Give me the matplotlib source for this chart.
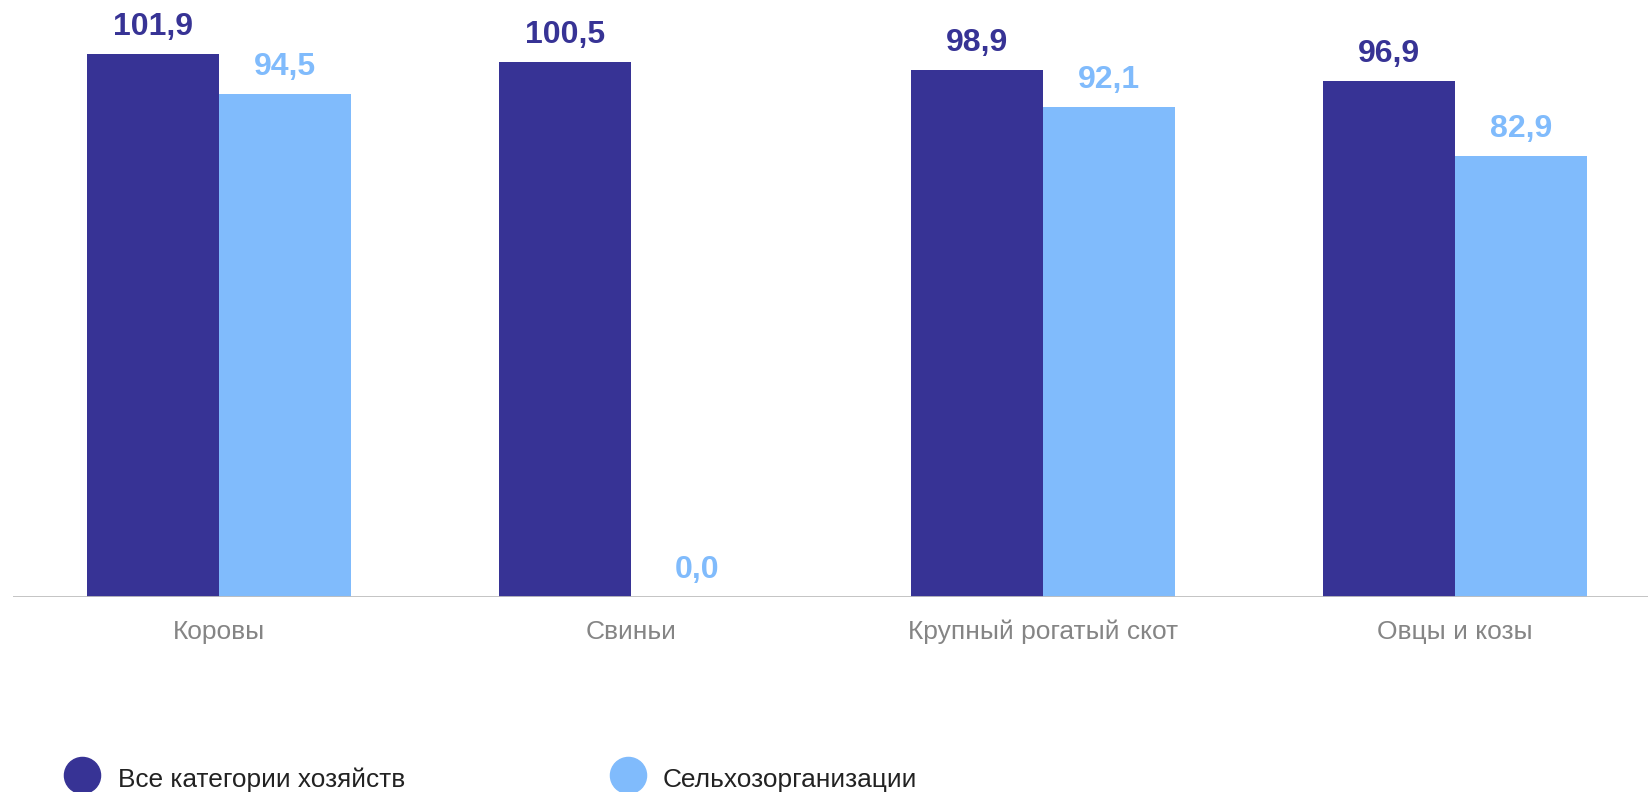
import matplotlib.pyplot as plt
from matplotlib.lines import Line2D

categories = ["Коровы", "Свиньи", "Крупный рогатый скот", "Овцы и козы"]
all_farms = [101.9, 100.5, 98.9, 96.9]
agri_orgs = [94.5, 0.0, 92.1, 82.9]
series_names = ["Все категории хозяйств", "Сельхозорганизации"]

dark = "#373395"
light = "#80bbfc"

plt.rcParams["font.family"] = ["Liberation Sans", "DejaVu Sans"]

W, H = 1648, 792
fig = plt.figure(figsize=(W / 100, H / 100), dpi=100)
ax = fig.add_axes([13 / W, 195 / H, 1635 / W, 597 / H])

x = list(range(len(categories)))
w = 0.32
ax.bar([i - w / 2 for i in x], all_farms, width=w, color=dark, zorder=2)
ax.bar([i + w / 2 for i in x], agri_orgs, width=w, color=light, zorder=2)

ax.set_xlim(-0.5, 3.468)
ax.set_ylim(0, 112.1)
ax.axis("off")
ax.axhline(0, color="#bfbfbf", lw=2, zorder=3)

def fmt(v):
    return f"{v:.1f}".replace(".", ",")

for i in x:
    ax.annotate(fmt(all_farms[i]), (i - w / 2, all_farms[i]), xytext=(0, 19),
                textcoords="offset pixels", ha="center", va="baseline",
                fontsize=23, fontweight="bold", color=dark)
    ax.annotate(fmt(agri_orgs[i]), (i + w / 2, agri_orgs[i]), xytext=(0, 19),
                textcoords="offset pixels", ha="center", va="baseline",
                fontsize=23, fontweight="bold", color=light)
    ax.annotate(categories[i], (i, 0), xytext=(0, -42),
                textcoords="offset pixels", ha="center", va="baseline",
                fontsize=19, color="#858585")

# legend drawn by hand at the bottom
for cx, tx, col, name in [(82, 118, dark, series_names[0]), (628, 663, light, series_names[1])]:
    fig.add_artist(Line2D([cx / W], [(792 - 775) / H], marker="o", markersize=26,
                          color=col, linestyle="none", transform=fig.transFigure))
    fig.text(tx / W, 5 / H, name, fontsize=18.9, color="#222222", va="baseline")

fig.savefig("out.png", dpi=100)
